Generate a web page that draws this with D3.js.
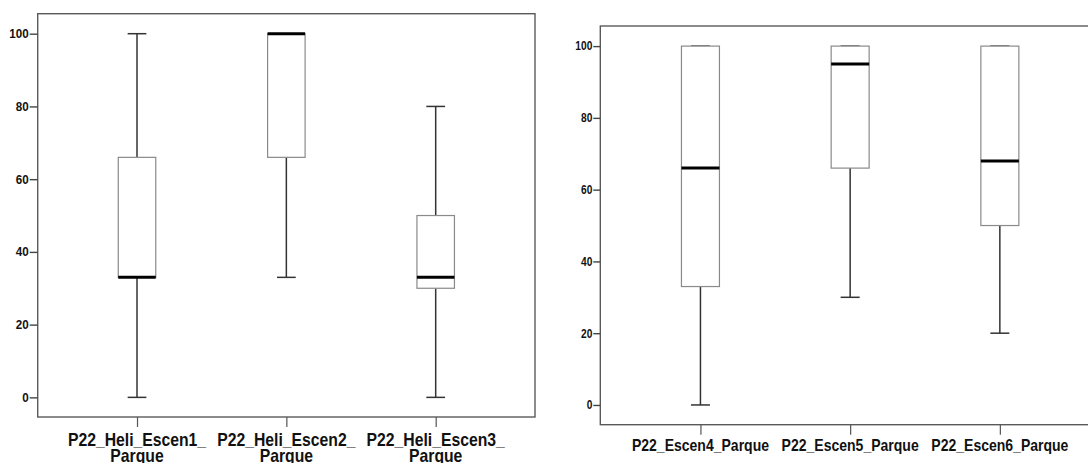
<!DOCTYPE html>
<html>
<head>
<meta charset="utf-8">
<script src="https://cdn.jsdelivr.net/npm/d3@7"></script>
<style>
  html, body { margin: 0; padding: 0; background: #fff; }
  svg { display: block; }
  text { font-family: "Liberation Sans", Arial, sans-serif; font-weight: bold; fill: #111; }
</style>
</head>
<body>
<svg id="chart" width="1088" height="463"></svg>
<script>
// Y-axis tick values shared by both panels
const yTicks = [0, 20, 40, 60, 80, 100];

// Left panel: helicopter scenarios
const leftCategories = ["P22_Heli_Escen1_Parque", "P22_Heli_Escen2_Parque", "P22_Heli_Escen3_Parque"];
const leftMin    = [0, 33, 0];
const leftQ1     = [33, 66, 30];
const leftMedian = [33, 100, 33];
const leftQ3     = [66, 100, 50];
const leftMax    = [100, 100, 80];

// Right panel: scenarios 4-6
const rightCategories = ["P22_Escen4_Parque", "P22_Escen5_Parque", "P22_Escen6_Parque"];
const rightMin    = [0, 30, 20];
const rightQ1     = [33, 66, 50];
const rightMedian = [66, 95, 68];
const rightQ3     = [100, 100, 100];
const rightMax    = [100, 100, 100];

const svg = d3.select("#chart");

function drawPanel(cfg) {
  const g = svg.append("g");
  const x = d3.scalePoint().domain(cfg.categories).range([cfg.left, cfg.right]).padding(cfg.padding);
  const y = d3.scaleLinear().domain(cfg.yDomain).range([cfg.bottom, cfg.top]);

  const rows = cfg.categories.map((c, i) => ({
    cat: c, min: cfg.min[i], q1: cfg.q1[i], med: cfg.median[i], q3: cfg.q3[i], max: cfg.max[i]
  }));

  // frame
  g.append("rect")
    .attr("x", cfg.left).attr("y", cfg.top)
    .attr("width", cfg.right - cfg.left).attr("height", cfg.bottom - cfg.top)
    .attr("fill", "none").attr("stroke", "#5a5a5a").attr("stroke-width", 1.4);

  // y axis (condensed bold numerals)
  const ya = g.append("g").attr("transform", `translate(${cfg.left},0)`)
    .call(d3.axisLeft(y).tickValues(yTicks).tickSize(cfg.yTickSize).tickPadding(1));
  ya.select(".domain").remove();
  ya.selectAll(".tick line").attr("stroke", "#444").attr("stroke-width", 1.4);
  ya.selectAll(".tick text")
    .attr("x", 0)
    .attr("transform", `translate(${-(cfg.yTickSize + 1)},0) scale(${cfg.yScaleX},1)`)
    .style("font-size", cfg.yFont + "px").attr("fill", "#111");

  // x axis
  const xa = g.append("g").attr("transform", `translate(0,${cfg.bottom})`)
    .call(d3.axisBottom(x).tickSize(10).tickFormat(""));
  xa.select(".domain").remove();
  xa.selectAll(".tick line").attr("stroke", "#555").attr("stroke-width", 1.2);

  const labels = g.append("g").selectAll("text").data(rows).join("text")
    .attr("transform", d => `translate(${x(d.cat)},${cfg.labelY}) scale(${cfg.labelScaleX},1)`)
    .attr("text-anchor", "middle")
    .style("font-size", cfg.labelFont + "px");
  labels.each(function(d) {
    const lines = cfg.wrap ? [d.cat.replace(/Parque$/, ""), "Parque"] : [d.cat];
    d3.select(this).selectAll("tspan").data(lines).join("tspan")
      .attr("x", 0)
      .attr("dy", (l, i) => i === 0 ? 0 : cfg.lineGap)
      .text(l => l);
  });

  const bw = cfg.boxWidth;
  const marks = g.append("g").selectAll("g").data(rows).join("g");

  // whiskers
  marks.append("line")
    .attr("x1", d => x(d.cat)).attr("x2", d => x(d.cat))
    .attr("y1", d => y(d.min)).attr("y2", d => y(d.q1))
    .attr("stroke", "#333").attr("stroke-width", 1.5);
  marks.append("line")
    .attr("x1", d => x(d.cat)).attr("x2", d => x(d.cat))
    .attr("y1", d => y(d.q3)).attr("y2", d => y(d.max))
    .attr("stroke", "#333").attr("stroke-width", 1.5);
  // caps
  ["min", "max"].forEach(k => {
    marks.append("line")
      .attr("x1", d => x(d.cat) - bw / 4).attr("x2", d => x(d.cat) + bw / 4)
      .attr("y1", d => y(d[k])).attr("y2", d => y(d[k]))
      .attr("stroke", "#333").attr("stroke-width", 1.5);
  });

  // boxes
  marks.append("rect")
    .attr("x", d => x(d.cat) - bw / 2)
    .attr("y", d => y(d.q3))
    .attr("width", bw)
    .attr("height", d => y(d.q1) - y(d.q3))
    .attr("fill", "#fff").attr("stroke", "#8a8a8a").attr("stroke-width", 1.2);

  // medians
  marks.append("line")
    .attr("x1", d => x(d.cat) - bw / 2).attr("x2", d => x(d.cat) + bw / 2)
    .attr("y1", d => y(d.med)).attr("y2", d => y(d.med))
    .attr("stroke", "#000").attr("stroke-width", 3);
}

drawPanel({
  categories: leftCategories, min: leftMin, q1: leftQ1, median: leftMedian, q3: leftQ3, max: leftMax,
  left: 37.7, right: 535, top: 13.7, bottom: 417, padding: 0.665,
  yDomain: [-5.4, 105.5], yTickSize: 8, yFont: 12.5, yScaleX: 0.93,
  boxWidth: 37.5, labelY: 446, labelFont: 17.5, labelScaleX: 0.9, wrap: true, lineGap: 16.5
});

drawPanel({
  categories: rightCategories, min: rightMin, q1: rightQ1, median: rightMedian, q3: rightQ3, max: rightMax,
  left: 600.3, right: 1100, top: 26, bottom: 424.7, padding: 0.669,
  yDomain: [-5.5, 105.6], yTickSize: 7, yFont: 12, yScaleX: 0.85,
  boxWidth: 38, labelY: 451, labelFont: 16.5, labelScaleX: 0.85, wrap: false, lineGap: 15
});
</script>
</body>
</html>
